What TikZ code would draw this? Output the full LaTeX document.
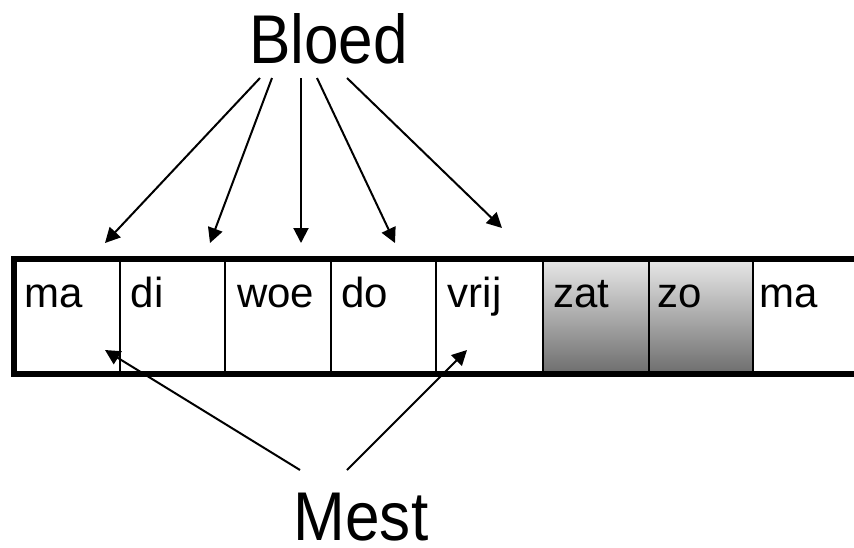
\documentclass[tikz,border=0pt]{standalone}
\usepackage{fontspec}
\setmainfont{Liberation Sans}
\newfontfamily\bigfont[FakeStretch=0.9]{Liberation Sans}
\usetikzlibrary{arrows.meta}
\begin{document}
\begin{tikzpicture}[x=1pt,y=-1pt,
  cell/.style={rectangle,draw=none,inner sep=0pt,outer sep=0pt,minimum height=114.5pt},
  shadedcell/.style={cell,top color=black!9,bottom color=black!57},
  lbl/.style={anchor=base west,inner sep=0pt,font=\fontsize{42}{50}\selectfont},
  biglbl/.style={anchor=base,inner sep=0pt,font=\bigfont\fontsize{69}{80}\selectfont},
  arr/.style={line width=2pt,-{Triangle[length=15pt,width=15pt]}},
  thin/.style={line width=2pt},
  thick/.style={line width=6pt,line join=miter}]
\useasboundingbox (0,0) rectangle (854,547);
% cells
\node[cell,minimum width=105.5pt] (c1) at (66.75,316.25) {};
\node[cell,minimum width=105.5pt] (c2) at (172.25,316.25) {};
\node[cell,minimum width=105.5pt] (c3) at (278,316.25) {};
\node[cell,minimum width=105.5pt] (c4) at (383.5,316.25) {};
\node[cell,minimum width=107pt] (c5) at (489.5,316.25) {};
\node[shadedcell,minimum width=106pt] (c6) at (596,316.25) {};
\node[shadedcell,minimum width=104pt] (c7) at (701,316.25) {};
\node[cell,minimum width=107pt] (c8) at (806.5,316.25) {};
% dividers
\foreach \i in {2,...,8} \draw[thin] (c\i.north west) -- (c\i.south west);
% frame
\coordinate (tr) at (860,259);
\coordinate (br) at (860,373.5);
\draw[thick] (tr) -- (c1.north west) -- (c1.south west) -- (br);
% cell texts
\node[lbl] (t1) at (24,307) {ma};
\node[lbl] (t2) at (130.5,307) {di};
\node[lbl] (t3) at (237,307) {woe};
\node[lbl] (t4) at (341,307) {do};
\node[lbl] (t5) at (447.5,307) {vrij};
\node[lbl] (t6) at (553,307) {zat};
\node[lbl] (t7) at (657,307) {zo};
\node[lbl] (t8) at (759,307) {ma};
% labels
\node[biglbl] (bloed) at (328.5,63) {Bloed};
\node[biglbl] (mest) at (361,540.5) {Mest};
% arrow anchor points
\coordinate (b1) at (260,78);
\coordinate (b2) at (272,78);
\coordinate (b3) at (301,78);
\coordinate (b4) at (317,78);
\coordinate (b5) at (347,78);
\coordinate (e1) at (105,243);
\coordinate (e2) at (210,243);
\coordinate (e3) at (301,243);
\coordinate (e4) at (395,243);
\coordinate (e5) at (502,228);
\coordinate (m1) at (300,470);
\coordinate (m2) at (347,470);
\coordinate (f1) at (105,350);
\coordinate (f2) at (467,350);
\foreach \i in {1,...,5} \draw[arr] (b\i) -- (e\i);
\draw[arr] (m1) -- (f1);
\draw[arr] (m2) -- (f2);
\end{tikzpicture}
\end{document}
